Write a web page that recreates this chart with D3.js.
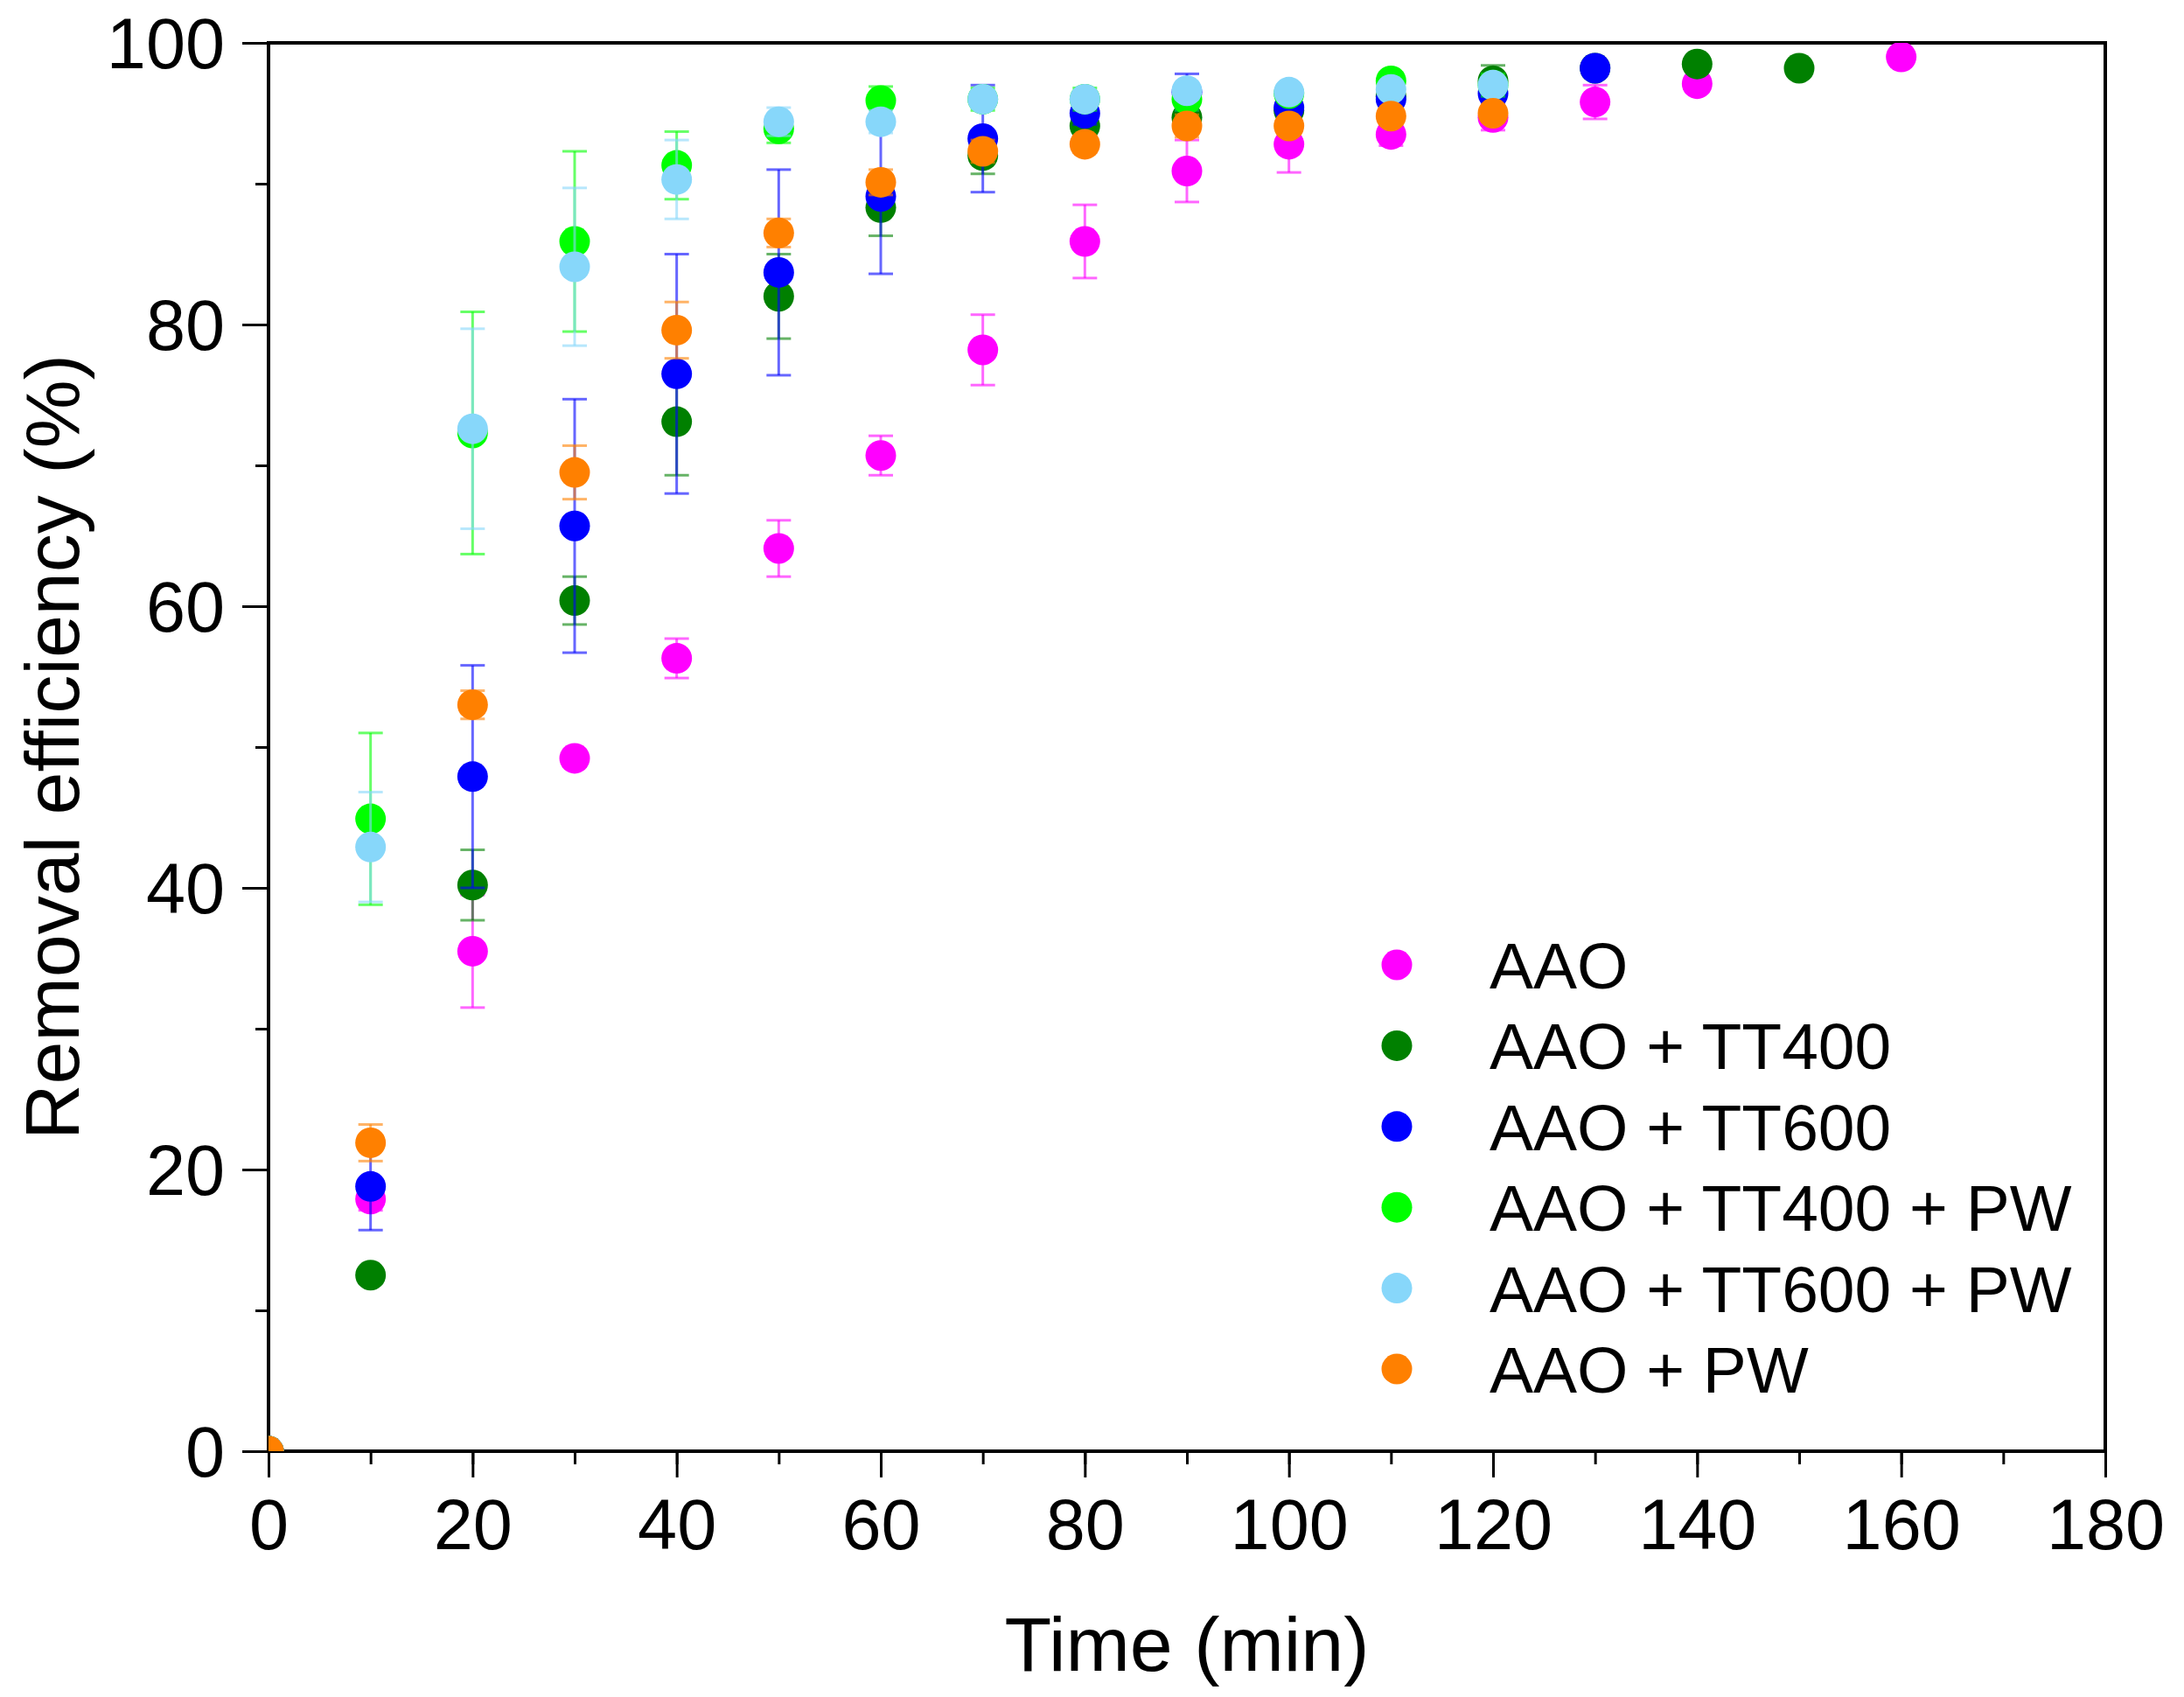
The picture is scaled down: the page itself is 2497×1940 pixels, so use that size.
<!DOCTYPE html>
<html>
<head>
<meta charset="utf-8">
<script src="https://cdn.jsdelivr.net/npm/d3@7"></script>
<style>
  html, body { margin: 0; padding: 0; background: #fff; }
  svg { display: block; }
  text { font-family: "Liberation Sans", Arial, sans-serif; fill: #000; }
</style>
</head>
<body>
<svg id="chart" width="2497" height="1940"></svg>
<script>
// ---------------- data ----------------
const times = [0, 10, 20, 30, 40, 50, 60, 70, 80, 90, 100, 110, 120, 130, 140, 150, 160];

const seriesNames = ["AAO", "AAO + TT400", "AAO + TT600", "AAO + TT400 + PW", "AAO + TT600 + PW", "AAO + PW"];
const seriesColors = ["#FF00FF", "#008000", "#0000FF", "#00FF00", "#87D7FA", "#FF8000"];

const aao      = [0, 17.9, 35.5, 49.2, 56.3, 64.1, 70.7, 78.2, 85.9, 90.9, 92.8, 93.5, 94.7, 95.8, 97.1, null, 99.0];
const aaoErr   = [0, 0.8, 4.0, 0.6, 1.4, 2.0, 1.4, 2.5, 2.6, 2.2, 2.0, 0.8, 0.9, 1.2, 0.5, null, 0.3];

const tt400    = [0, 12.5, 40.2, 60.4, 73.1, 82.0, 88.3, 92.0, 94.1, 94.7, 95.2, 96.2, 97.3, 98.2, 98.5, 98.2];
const tt400Err = [0, 0.5, 2.5, 1.7, 3.8, 3.0, 2.0, 1.3, 0.8, 1.0, 0.8, 0.8, 1.1, 0.5, 0.3, 0.3];

const tt600    = [0, 18.8, 47.9, 65.7, 76.5, 83.7, 89.1, 93.2, 95.0, 96.5, 95.4, 96.0, 96.4, 98.2];
const tt600Err = [0, 3.1, 7.9, 9.0, 8.5, 7.3, 5.5, 3.8, 0.8, 1.3, 0.8, 0.8, 0.8, 0.5];

const tt400pw    = [0, 44.9, 72.3, 85.9, 91.3, 93.9, 95.9, 96.0, 96.0, 96.0, 96.4, 97.3, 97.0];
const tt400pwErr = [0, 6.1, 8.6, 6.4, 2.4, 1.0, 1.0, 0.8, 0.8, 0.8, 0.6, 0.6, 0.8];

const tt600pw    = [0, 42.9, 72.6, 84.1, 90.3, 94.4, 94.4, 96.0, 96.0, 96.6, 96.5, 96.7, 97.0];
const tt600pwErr = [0, 3.9, 7.1, 5.6, 2.8, 1.0, 0.8, 0.6, 0.6, 0.6, 0.5, 0.5, 0.5];

const pw    = [0, 21.9, 53.0, 69.5, 79.6, 86.5, 90.1, 92.3, 92.8, 94.1, 94.1, 94.8, 95.0];
const pwErr = [0, 1.3, 1.0, 1.9, 2.0, 1.0, 0.9, 0.8, 0.6, 0.8, 0.5, 0.5, 0.6];

const xTicks = [0, 20, 40, 60, 80, 100, 120, 140, 160, 180];
const yTicks = [0, 20, 40, 60, 80, 100];

const seriesValues = [aao, tt400, tt600, tt400pw, tt600pw, pw];
const seriesErrors = [aaoErr, tt400Err, tt600Err, tt400pwErr, tt600pwErr, pwErr];

// ---------------- layout ----------------
const margin = { left: 307, top: 49 };
const W = 2100, H = 1610;
const R = 17.5;

const svg = d3.select("#chart");
const x = d3.scaleLinear().domain([0, 180]).range([0, W]);
const y = d3.scaleLinear().domain([0, 100]).range([H, 0]);

const g = svg.append("g").attr("transform", `translate(${margin.left},${margin.top})`);

svg.append("defs").append("clipPath").attr("id", "plotclip")
  .append("rect").attr("x", 0).attr("y", 0).attr("width", W).attr("height", H);

// ---------------- axes ----------------
const minorX = d3.range(0, 181, 10);
const minorY = d3.range(0, 101, 10);

function styleAxis(sel) {
  sel.select(".domain").remove();
  sel.selectAll(".tick line").attr("stroke", "#000").attr("stroke-width", 3);
}

g.append("g").attr("transform", `translate(0,${H})`)
  .call(d3.axisBottom(x).tickValues(minorX).tickSize(15).tickFormat(""))
  .call(styleAxis);
const xAx = g.append("g").attr("transform", `translate(0,${H})`)
  .call(d3.axisBottom(x).tickValues(xTicks).tickSize(30).tickPadding(24).tickFormat(d3.format("d")))
  .call(styleAxis);
xAx.selectAll(".tick text").attr("font-size", 81).attr("dy", "0.71em");

g.append("g")
  .call(d3.axisLeft(y).tickValues(minorY).tickSize(15).tickFormat(""))
  .call(styleAxis);
const yAx = g.append("g")
  .call(d3.axisLeft(y).tickValues(yTicks).tickSize(30).tickPadding(20).tickFormat(d3.format("d")))
  .call(styleAxis);
yAx.selectAll(".tick text").attr("font-size", 81).attr("dy", "0.35em");

// frame
g.append("rect").attr("x", 0).attr("y", 0).attr("width", W).attr("height", H)
  .attr("fill", "none").attr("stroke", "#000").attr("stroke-width", 4);

// axis titles
svg.append("text")
  .attr("x", margin.left + W / 2).attr("y", 1910)
  .attr("text-anchor", "middle").attr("font-size", 88)
  .text("Time (min)");
svg.append("text")
  .attr("transform", `translate(90,${margin.top + H / 2}) rotate(-90)`)
  .attr("text-anchor", "middle").attr("font-size", 88)
  .text("Removal efficiency (%)");

// ---------------- data marks ----------------
const plot = g.append("g").attr("clip-path", "url(#plotclip)");
const capW = 14;

seriesNames.forEach((name, si) => {
  const color = seriesColors[si];
  const pts = seriesValues[si].map((v, i) => ({ t: times[i], v: v, e: seriesErrors[si][i] }))
    .filter(d => d.v !== null && d.v !== undefined);
  const sg = plot.append("g").attr("class", "series");
  const eb = sg.append("g").attr("stroke", color).attr("stroke-width", 3).attr("stroke-opacity", 0.6);
  pts.filter(d => d.e && d.e > 0).forEach(d => {
    const cx = x(d.t), y1 = y(d.v + d.e), y2 = y(d.v - d.e);
    eb.append("line").attr("x1", cx).attr("x2", cx).attr("y1", y1).attr("y2", y2);
    eb.append("line").attr("x1", cx - capW).attr("x2", cx + capW).attr("y1", y1).attr("y2", y1);
    eb.append("line").attr("x1", cx - capW).attr("x2", cx + capW).attr("y1", y2).attr("y2", y2);
  });
  sg.selectAll("circle").data(pts).join("circle")
    .attr("cx", d => x(d.t)).attr("cy", d => y(d.v)).attr("r", R)
    .attr("fill", color);
});

// ---------------- legend ----------------
const legend = svg.append("g");
const legX = 1597, legY0 = 1103, legDy = 92.4;
seriesNames.forEach((name, i) => {
  const cy = legY0 + i * legDy;
  legend.append("circle").attr("cx", legX).attr("cy", cy).attr("r", R).attr("fill", seriesColors[i]);
  legend.append("text").attr("x", 1703).attr("y", cy + 27).attr("font-size", 75).text(name);
});
</script>
</body>
</html>
